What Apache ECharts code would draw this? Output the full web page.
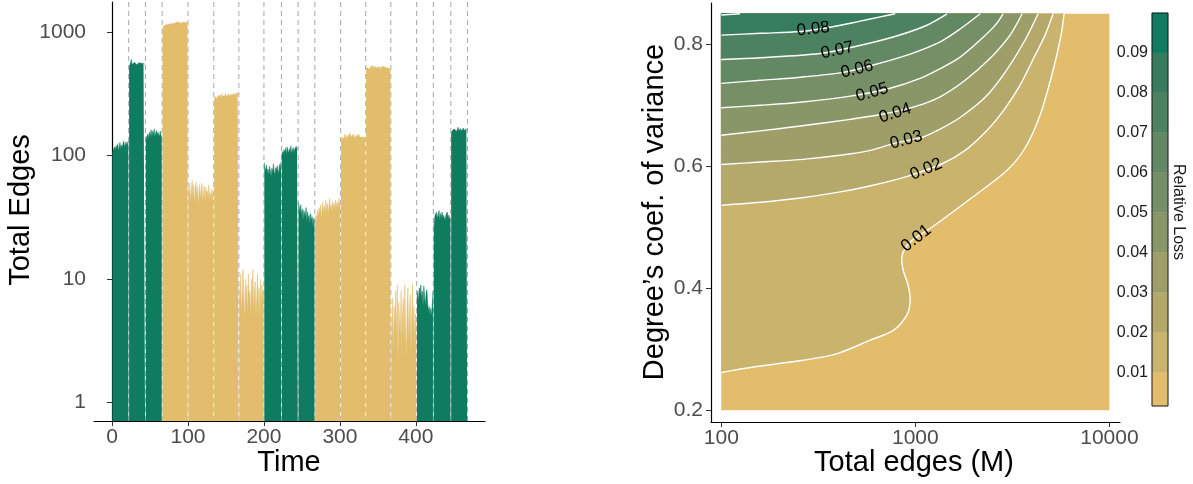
<!DOCTYPE html>
<html><head><meta charset="utf-8">
<script src="https://cdn.jsdelivr.net/npm/echarts@6/dist/echarts.min.js"></script>
<style>html,body{margin:0;padding:0;background:#fff}#c{width:1193px;height:484px}</style>
</head><body><div id="c"></div>
<script>
// ---------------- Left panel data ----------------
const timeTicks = [0, 100, 200, 300, 400];
const edgeTicks = [1, 10, 100, 1000];
const segmentBreaks = [22, 44, 66, 100, 134, 167, 200, 223, 245, 267, 301, 334, 367, 401, 423, 446, 468];
const segmentStart = [0.5, 22.5, 44.5, 66.5, 100.5, 134.5, 167.5, 200.5, 223.5, 245.5, 267.5, 301.5, 334.5, 367.5, 401.5, 423.5, 446.5];
const segmentGroup = ['g','g','g','y','y','y','y','g','g','g','y','y','y','y','g','g','g'];
const seg01 = [104,110,108,118,112,121,115,125,109,119,128,114,122,117,126,131,118,124,129,121,127,132];
const seg02 = [520,545,560,600,548,555,540,570,552,558,545,560,550,565,548,555,560,545,552,558,550,548];
const seg03 = [130,142,138,150,136,155,145,162,140,158,148,165,143,152,160,147,155,150,142,158,146,140];
const seg04 = [1080,1120,1110,1140,1130,1160,1150,1170,1145,1160,1180,1165,1175,1150,1190,1170,1180,1160,1200,1185,1175,1210,1190,1200,1180,1215,1195,1205,1190,1220,1200,1210,1195,1180];
const seg05 = [55,48,60,42,52,63,45,58,40,54,61,47,56,39,50,58,44,53,60,42,49,57,41,55,48,52,44,58,46,50,43,54,47,52];
const seg06 = [285,300,295,310,290,305,315,298,308,292,318,302,296,312,305,320,300,310,295,315,308,300,318,305,312,298,320,308,315,302,325,310,318];
const seg07 = [9,6,11,5,8,12,7,4.5,10,6,9,5,11,7,8,4.8,10,6.5,12,5.5,8,9.5,5,7,11,6,8.5,4.6,10,6,9,7,8];
const seg08 = [88,80,76,84,72,78,70,82,75,68,79,73,86,74,71,80,77,83,76,72,85,79,90];
const seg09 = [100,108,104,112,106,115,102,118,110,105,114,108,120,103,111,116,107,113,109,119,112,115];
const seg10 = [42,38,35,40,33,37,30,36,34,32,38,29,35,31,33,28,34,30,32,27,31,29];
const seg11 = [28,33,30,36,32,38,34,40,31,37,42,35,39,33,44,36,41,34,38,45,37,40,35,43,38,41,36,44,39,42,37,45,40,43];
const seg12 = [128,140,135,145,138,150,142,136,148,140,144,138,152,141,146,139,149,143,137,147,141,145,139,150,143,138,146,140,144,136,142,139,135];
const seg13 = [490,520,505,530,500,515,525,510,520,535,505,518,528,512,522,508,530,515,520,505,525,512,518,528,510,520,515,508,522,512,505,515,500];
const seg14 = [5,3,7,2.5,6,4,8,3,9,2,6.5,4.5,3.5,8,2.8,5.5,7,3,9,4,2.2,6,8.5,3.2,5,7.5,2.6,4.8,9.2,3.8,6,2.9,5.2,4];
const seg15 = [7,8,6.5,8.5,7.5,9,7,8,6,8.8,7.2,6,7.8,8.2,6.4,5.5,6,5.2,5.8,5,6.2,8];
const seg16 = [26,30,34,32,35,31,33,36,30,34,32,35,31,33,34,30,33,32,35,31,33,34,30];
const seg17 = [150,158,162,155,165,160,168,157,163,170,159,162,166,158,164,161,167,160,163,158,165,162];
const segments = [seg01,seg02,seg03,seg04,seg05,seg06,seg07,seg08,seg09,seg10,seg11,seg12,seg13,seg14,seg15,seg16,seg17];

// ---------------- Right panel data ----------------
const edgesTicksM = [100, 1000, 10000];
const covTicks = [0.2, 0.4, 0.6, 0.8];
const domainM = [100, 10000];
const domainCov = [0.2, 0.85];
// contour lines [Total edges (M), CoV], levels 0.01 ... 0.09
const contour01 = [[100,0.262],[146,0.271],[264,0.282],[396,0.293],[585,0.315],[769,0.331],[904,0.356],[940,0.380],[918,0.405],[865,0.430],[852,0.451],[886,0.466],[963,0.479],[1216,0.500],[1984,0.550],[2959,0.593],[3677,0.630],[4393,0.684],[5124,0.757],[5633,0.815],[5838,0.85]];
const contour02 = [[100,0.536],[159,0.541],[255,0.548],[410,0.558],[606,0.569],[918,0.584],[1391,0.605],[1805,0.626],[2343,0.659],[2900,0.695],[3465,0.733],[4141,0.782],[4660,0.815],[5124,0.85]];
const contour03 = [[100,0.603],[159,0.607],[255,0.611],[410,0.618],[585,0.626],[787,0.638],[1097,0.648],[1342,0.661],[1701,0.680],[2288,0.713],[2900,0.754],[3677,0.807],[4290,0.85]];
const contour04 = [[100,0.651],[159,0.658],[255,0.666],[462,0.677],[643,0.684],[974,0.697],[1342,0.714],[1805,0.741],[2428,0.777],[3077,0.815],[3548,0.85]];
const contour05 = [[100,0.696],[159,0.700],[255,0.705],[462,0.715],[742,0.728],[1059,0.744],[1342,0.760],[1701,0.779],[2157,0.807],[2576,0.831],[2832,0.85]];
const contour06 = [[100,0.736],[159,0.741],[255,0.746],[425,0.754],[606,0.766],[940,0.784],[1342,0.804],[1701,0.825],[2157,0.85]];
const contour07 = [[100,0.775],[159,0.778],[323,0.785],[484,0.796],[769,0.812],[1123,0.830],[1458,0.85]];
const contour08 = [[100,0.815],[159,0.818],[255,0.821],[364,0.828],[520,0.838],[659,0.845],[787,0.85]];
const contour09 = [[100,0.848],[125,0.85]];
const contours = [contour01,contour02,contour03,contour04,contour05,contour06,contour07,contour08,contour09];
const contourLevels = ['0.01','0.02','0.03','0.04','0.05','0.06','0.07','0.08','0.09'];
// label anchor [M, CoV] and slope (deg) for levels 0.01..0.08
const contourLabelPos = [[1010,0.482],[1137,0.595],[897,0.643],[787,0.687],[599,0.721],[501,0.759],[396,0.790],[298,0.825]];
const contourLabelAngle = [38,23,15,18,16,14,12,6];
const lossBreaks = [0.0016,0.01,0.02,0.03,0.04,0.05,0.06,0.07,0.08,0.09,0.1];
const lossTicks = [0.01,0.02,0.03,0.04,0.05,0.06,0.07,0.08,0.09];

// ---------------- styles ----------------
const GREEN = '#0F7B5F', GOLD = '#E2BD6B';
const bandColors = ['#E2BD6B','#CAB36D','#B4A86A','#9E9E68','#899667','#768F66','#628864','#4D8261','#367D5F','#0F7B5F'];
const FONT = '"Liberation Sans", Arial, Helvetica, sans-serif';
const AXC = '#000', TICKC = '#333', LABC = '#4D4D4D';
const SMOOTH = 0.3;

const chart = echarts.init(document.getElementById('c'), null, {renderer: 'canvas'});

const series = [];
// dashed segment separators (behind areas)
series.push({
  type: 'custom', xAxisIndex: 0, yAxisIndex: 0, z: 1, silent: true, clip: true,
  dimensions: ['x','y'], encode: {x: 0, y: 1},
  data: segmentBreaks.map(t => [t, 1]),
  renderItem(params, api) {
    const p = api.coord([api.value(0), 1]);
    const cs = params.coordSys;
    return {type: 'line', shape: {x1: p[0], y1: cs.y, x2: p[0], y2: cs.y + cs.height},
      style: {stroke: '#A6A6A6', lineWidth: 1, lineDash: [5, 4]}};
  }
});
segments.forEach((vals, i) => {
  const c = segmentGroup[i] === 'g' ? GREEN : GOLD;
  series.push({
    type: 'line', xAxisIndex: 0, yAxisIndex: 0, z: 3, silent: true,
    data: vals.map((v, j) => [segmentStart[i] + j, v]),
    symbol: 'none', showSymbol: false, sampling: null,
    lineStyle: {width: 0.5, color: c}, areaStyle: {color: c, opacity: 1, origin: 'start'}
  });
});

// contour filled bands + lines (type: 0 = band fill, 1 = contour line)
const contourItems = [];
for (let k = 0; k <= 9; k++) contourItems.push([domainM[0], domainCov[0], k, 0]);
for (let k = 1; k <= 9; k++) contourItems.push([domainM[0], domainCov[0], k, 1]);
series.push({
  type: 'custom', xAxisIndex: 1, yAxisIndex: 1, z: 2, silent: true, clip: false,
  dimensions: ['x','y','band','kind'], encode: {x: 0, y: 1},
  data: contourItems,
  renderItem(params, api) {
    const k = api.value(2), kind = api.value(3);
    if (kind === 0 && k === 0) {
      const a = api.coord([domainM[0], domainCov[1]]);
      const b = api.coord([domainM[1], domainCov[0]]);
      return {type: 'rect', z2: 0, shape: {x: a[0], y: a[1], width: b[0]-a[0], height: b[1]-a[1]}, style: {fill: bandColors[0]}};
    }
    const pts = contours[k-1].map(p => api.coord(p));
    if (kind === 1) {
      return {type: 'polyline', z2: 50, shape: {points: pts, smooth: SMOOTH},
        style: {stroke: '#FFFFFF', lineWidth: 1.4, fill: null}};
    }
    const s = pts[0], e = pts[pts.length - 1];
    const c = api.coord([domainM[0], domainCov[1]]);
    const ring = pts.concat([[e[0]-0.4, e[1]], [c[0]+0.4, c[1]], c, [c[0], c[1]+0.4], [s[0], s[1]-0.4]]);
    return {type: 'polygon', z2: k, shape: {points: ring, smooth: SMOOTH},
      style: {fill: bandColors[k], stroke: bandColors[k], lineWidth: 0.3}};
  }
});
series.push({
  type: 'custom', xAxisIndex: 1, yAxisIndex: 1, z: 5, silent: true, clip: false,
  dimensions: ['x','y','idx'], encode: {x: 0, y: 1},
  data: contourLabelPos.map((p, i) => [p[0], p[1], i]),
  renderItem(params, api) {
    const i = api.value(2);
    const p = api.coord([api.value(0), api.value(1)]);
    return {type: 'text', x: p[0], y: p[1], rotation: contourLabelAngle[i] * Math.PI / 180,
      style: {text: contourLevels[i], fill: '#000', font: '17px ' + FONT, align: 'center', verticalAlign: 'middle'}};
  }
});
// colour bar
series.push({
  type: 'custom', xAxisIndex: 2, yAxisIndex: 2, z: 2, silent: true, clip: false,
  dimensions: ['x','lo','hi','k'], encode: {x: 0, y: 1},
  data: lossBreaks.slice(0, -1).map((lo, k) => [0.5, lo, lossBreaks[k+1], k]),
  renderItem(params, api) {
    const a = api.coord([0, api.value(2)]);
    const b = api.coord([1, api.value(1)]);
    return {type: 'rect', shape: {x: a[0], y: a[1], width: b[0]-a[0], height: b[1]-a[1]},
      style: {fill: bandColors[api.value(3)], stroke: bandColors[api.value(3)], lineWidth: 0.3}};
  }
});
series.push({
  type: 'custom', xAxisIndex: 2, yAxisIndex: 2, z: 3, silent: true, clip: false,
  dimensions: ['x','y'], encode: {x: 0, y: 1},
  data: [[0.5, 0.05]],
  renderItem(params, api) {
    const cs = params.coordSys;
    return {type: 'rect', shape: {x: cs.x, y: cs.y, width: cs.width, height: cs.height},
      style: {fill: 'none', stroke: '#1A1A1A', lineWidth: 1}};
  }
});

const tickStyle = {show: true, length: 5, lineStyle: {color: TICKC, width: 1}};
const lineStyle = {show: true, lineStyle: {color: AXC, width: 1.2}};
const labStyle = {color: LABC, fontSize: 21, fontFamily: FONT};

const option = {
  animation: false,
  backgroundColor: '#fff',
  textStyle: {fontFamily: FONT},
  grid: [
    {left: 94, top: 2, width: 391, height: 419, outerBoundsMode: 'none', containLabel: false},
    {left: 711, top: 3, width: 409, height: 419, outerBoundsMode: 'none', containLabel: false},
    {left: 1152, top: 13, width: 16, height: 393, outerBoundsMode: 'none', containLabel: false}
  ],
  xAxis: [
    {type: 'value', gridIndex: 0, min: -23.7, max: 491, splitLine: {show: false},
     axisLine: lineStyle, axisTick: Object.assign({customValues: timeTicks}, tickStyle),
     axisLabel: Object.assign({customValues: timeTicks, margin: 6, formatter: v => String(v)}, labStyle)},
    {type: 'log', logBase: 10, gridIndex: 1, min: 88.5, max: 11340, splitLine: {show: false}, minorTick: {show: false},
     axisLine: lineStyle, axisTick: Object.assign({customValues: edgesTicksM}, tickStyle),
     axisLabel: Object.assign({customValues: edgesTicksM, margin: 6, formatter: v => String(Math.round(v))}, labStyle)},
    {type: 'value', gridIndex: 2, min: 0, max: 1, show: false}
  ],
  yAxis: [
    {type: 'log', logBase: 10, gridIndex: 0, min: 0.711, max: 1754, splitLine: {show: false}, minorTick: {show: false},
     axisLine: lineStyle, axisTick: Object.assign({customValues: edgeTicks}, tickStyle),
     axisLabel: Object.assign({customValues: edgeTicks, margin: 8, formatter: v => String(Math.round(v))}, labStyle)},
    {type: 'value', gridIndex: 1, min: 0.1808, max: 0.8677, splitLine: {show: false},
     axisLine: lineStyle, axisTick: Object.assign({customValues: covTicks}, tickStyle),
     axisLabel: Object.assign({customValues: covTicks, margin: 8, formatter: v => v.toFixed(1)}, labStyle)},
    {type: 'value', gridIndex: 2, min: 0.0016, max: 0.1, splitLine: {show: false},
     axisLine: {show: false}, axisTick: {show: false},
     axisLabel: {customValues: lossTicks, margin: 4, color: '#1A1A1A', fontSize: 16, fontFamily: FONT, formatter: v => v.toFixed(2)}}
  ],
  graphic: [
    {type: 'text', x: 21, y: 210, rotation: Math.PI / 2, silent: true,
     style: {text: 'Total Edges', font: '29px ' + FONT, fill: '#000', align: 'center', verticalAlign: 'middle'}},
    {type: 'text', x: 289, y: 463, silent: true,
     style: {text: 'Time', font: '29px ' + FONT, fill: '#000', align: 'center', verticalAlign: 'middle'}},
    {type: 'text', x: 655, y: 212, rotation: Math.PI / 2, silent: true,
     style: {text: 'Degree\u2019s coef. of variance', font: '29px ' + FONT, fill: '#000', align: 'center', verticalAlign: 'middle'}},
    {type: 'text', x: 914, y: 463, silent: true,
     style: {text: 'Total edges (M)', font: '29px ' + FONT, fill: '#000', align: 'center', verticalAlign: 'middle'}},
    {type: 'text', x: 1178, y: 212, rotation: -Math.PI / 2, silent: true,
     style: {text: 'Relative Loss', font: '16px ' + FONT, fill: '#1A1A1A', align: 'center', verticalAlign: 'middle'}}
  ],
  series: series
};
chart.setOption(option);
</script>
</body></html>
